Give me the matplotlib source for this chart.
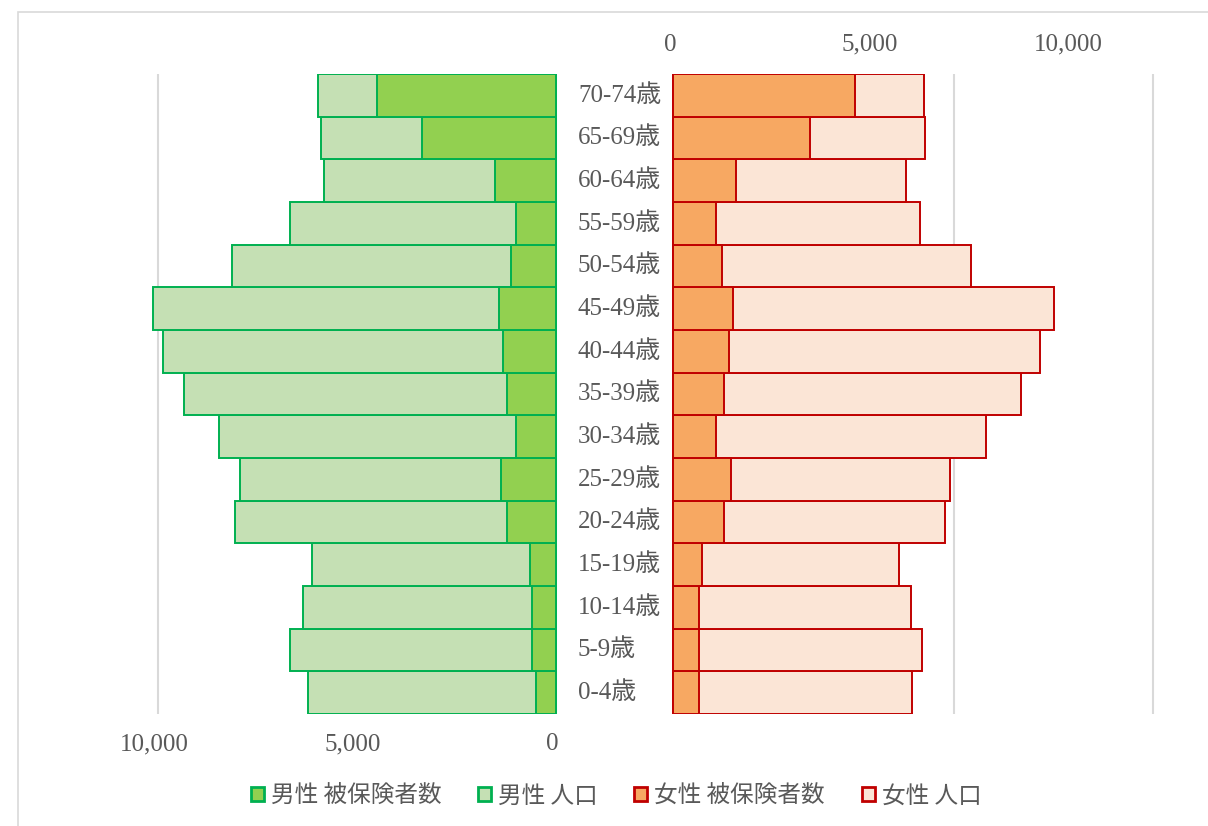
import numpy as np
import matplotlib
matplotlib.use("Agg")
import matplotlib.pyplot as plt
from matplotlib.patches import Patch, Rectangle

# Age groups, bottom to top
ages = ['0-4歳', '5-9歳', '10-14歳', '15-19歳', '20-24歳', '25-29歳', '30-34歳',
        '35-39歳', '40-44歳', '45-49歳', '50-54歳', '55-59歳', '60-64歳',
        '65-69歳', '70-74歳']

male_pop = [6220, 6670, 6360, 6120, 8070, 7940, 8470,
            9340, 9880, 10120, 8150, 6680, 5830, 5910, 5990]
male_ins = [510, 590, 590, 650, 1220, 1380, 1000,
            1220, 1320, 1440, 1140, 1000, 1520, 3370, 4490]
female_pop = [6000, 6250, 5960, 5660, 6810, 6950, 7860,
              8740, 9200, 9570, 7480, 6200, 5840, 6330, 6290]
female_ins = [650, 650, 650, 730, 1270, 1440, 1080,
              1280, 1390, 1500, 1210, 1070, 1580, 3430, 4550]

tick_vals = [0, 5000, 10000]
tick_labels = ['0', '5,000', '10,000']

# female side is shifted right to leave room for the age labels
offset = 2950

serif = ['Liberation Serif', 'Noto Sans CJK JP']
sans = ['Noto Sans CJK JP', 'DejaVu Sans']
text_color = '#595959'

M_EDGE, M_INS, M_POP = '#00B050', '#92D050', '#C5E0B4'
F_EDGE, F_INS, F_POP = '#C00000', '#F7A862', '#FBE5D6'

fig = plt.figure(figsize=(12.08, 8.26), dpi=100)

# chart frame
fig.patches.append(Rectangle((18 / 1208, -0.1), 1.2, 1 - 12 / 826 + 0.1,
                             transform=fig.transFigure, fill=False,
                             edgecolor='#D9D9D9', linewidth=1.2))

ax = fig.add_axes([138 / 1208, 1 - 714 / 826, (1173 - 138) / 1208, (714 - 74) / 826])
y = np.arange(len(ages))

for gx in np.arange(-10000, 15001, 5000):
    ax.axvline(gx, color='#D9D9D9', linewidth=1.5, zorder=0)

lw = 1.4
ax.barh(y, -np.array(male_pop), height=1.0, color=M_POP, edgecolor=M_EDGE,
        linewidth=lw, zorder=2)
ax.barh(y, -np.array(male_ins), height=1.0, color=M_INS, edgecolor=M_EDGE,
        linewidth=lw, zorder=3)
ax.barh(y, female_pop, left=offset, height=1.0, color=F_POP, edgecolor=F_EDGE,
        linewidth=lw, zorder=2)
ax.barh(y, female_ins, left=offset, height=1.0, color=F_INS, edgecolor=F_EDGE,
        linewidth=lw, zorder=3)

for yi, lab in zip(y, ages):
    ax.text(550, yi, lab, ha='left', va='center', fontsize=18,
            family=serif, color=text_color)

ax.set_xlim(-10500, 15500)
ax.set_ylim(-0.5, len(ages) - 0.5)
ax.set_yticks([])

# male scale along the bottom
ax.set_xticks([-v - 100 for v in tick_vals])
ax.set_xticklabels(tick_labels, fontsize=18, family=serif, color=text_color)
ax.tick_params(axis='x', length=0, pad=14)

# female scale along the top
top = ax.twiny()
top.set_xlim(ax.get_xlim())
top.set_xticks([offset + v - 75 for v in tick_vals])
top.set_xticklabels(tick_labels, fontsize=18, family=serif, color=text_color)
top.tick_params(axis='x', length=0, pad=13)

for a in (ax, top):
    for s in a.spines.values():
        s.set_visible(False)

handles = [
    Patch(facecolor=M_INS, edgecolor=M_EDGE, linewidth=2, label='男性 被保険者数'),
    Patch(facecolor=M_POP, edgecolor=M_EDGE, linewidth=2, label='男性 人口'),
    Patch(facecolor=F_INS, edgecolor=F_EDGE, linewidth=2, label='女性 被保険者数'),
    Patch(facecolor=F_POP, edgecolor=F_EDGE, linewidth=2, label='女性 人口'),
]
leg = fig.legend(handles=handles, ncol=4, loc='center',
                 bbox_to_anchor=(616 / 1208, 1 - 796 / 826), frameon=False,
                 prop={'family': sans, 'size': 17}, handlelength=0.55,
                 handleheight=0.55, handletextpad=0.3, columnspacing=1.55)
for t in leg.get_texts():
    t.set_color(text_color)

fig.savefig('out.png', dpi=100)
